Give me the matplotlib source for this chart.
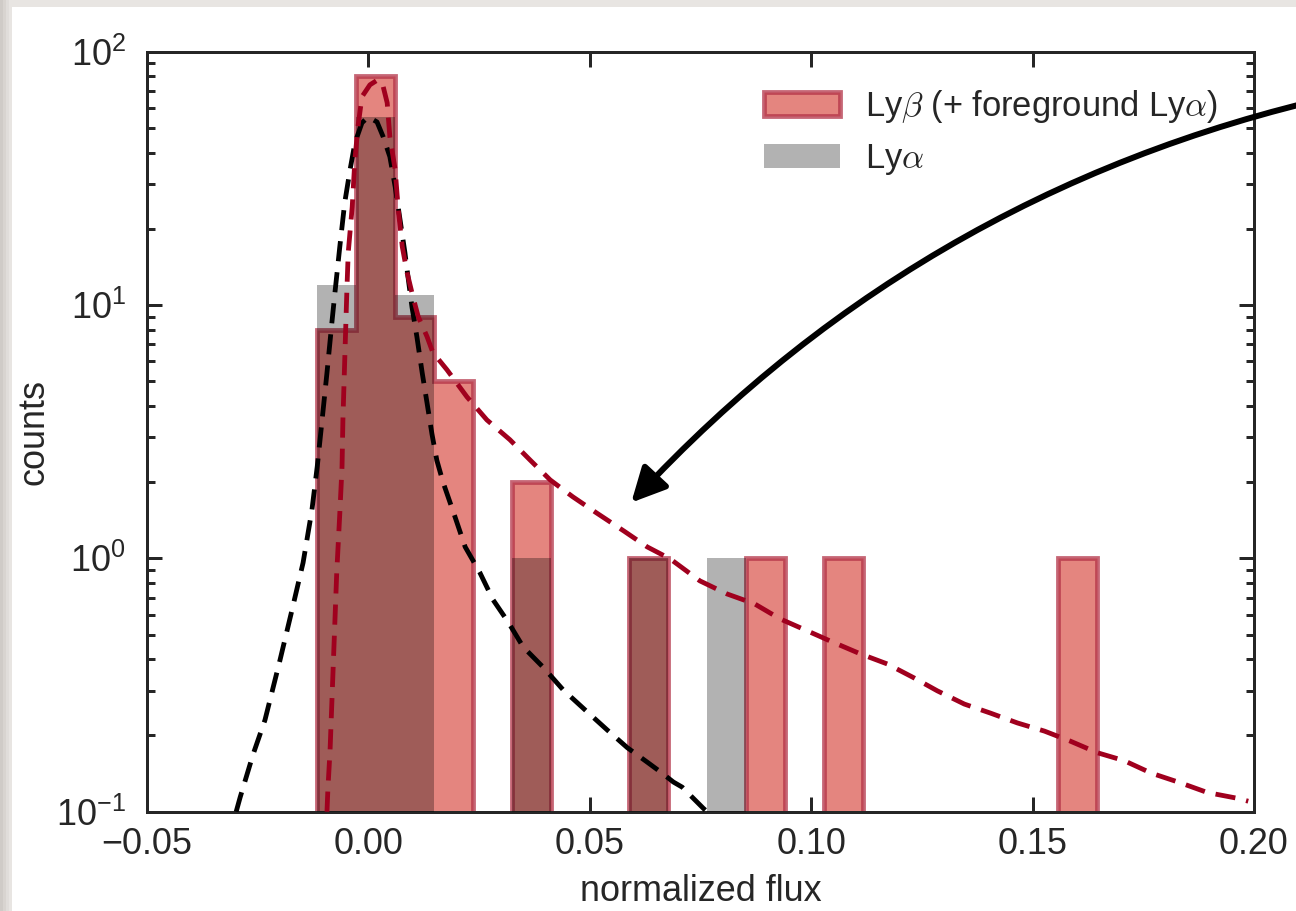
import numpy as np
import matplotlib
matplotlib.use("Agg")
import matplotlib.pyplot as plt
from matplotlib.patches import Rectangle
from matplotlib.ticker import FixedLocator, LogLocator, NullFormatter, FixedFormatter

# histogram bins in normalized flux
flux_lo = -0.01165
flux_hi = 0.16449
nbins = 20

# counts per bin
counts_lyb = [8, 80, 9, 5, 0, 2, 0, 0, 1, 0, 0, 1, 0, 1, 0, 0, 0, 0, 0, 1]
counts_lya = [12, 55, 11, 0, 0, 1, 0, 0, 1, 0, 1, 0, 0, 0, 0, 0, 0, 0, 0, 0]

# model curve for Ly-alpha (black dashed)
model_lya_x = [-0.0298, -0.0289, -0.0260, -0.0233, -0.0199, -0.0172, -0.0147, -0.0127,
               -0.0115, -0.0104, -0.0093, -0.0082, -0.0075, -0.0064, -0.0053, -0.0041,
               -0.0030, -0.0014, 0.0000, 0.0020, 0.0034, 0.0049, 0.0061, 0.0072,
               0.0083, 0.0091, 0.0099, 0.0110, 0.0122, 0.0133, 0.0144, 0.0155,
               0.0169, 0.0196, 0.0219, 0.0252, 0.0282, 0.0316, 0.0350, 0.0395,
               0.0440, 0.0490, 0.0540, 0.0585, 0.0632, 0.0659, 0.0689, 0.0709,
               0.0734, 0.0757, 0.0768]
model_lya_y = [0.100, 0.114, 0.168, 0.230, 0.397, 0.625, 0.96, 1.55,
               2.30, 3.52, 5.40, 8.5, 11.2, 17.0, 25.3, 34.1,
               43.6, 52.4, 55.3, 52.8, 46.1, 38.5, 29.3, 21.7,
               16.1, 12.5, 9.8, 7.5, 5.4, 4.1, 3.1, 2.44,
               2.0, 1.46, 1.11, 0.88, 0.686, 0.561, 0.447, 0.372,
               0.303, 0.252, 0.210, 0.179, 0.156, 0.144, 0.131, 0.125,
               0.113, 0.103, 0.099]

# model curve for Ly-beta + foreground Ly-alpha (red dashed)
model_lyb_x = [-0.0093, -0.0091, -0.0086, -0.0071, -0.0064, -0.0059, -0.0057, -0.0052,
               -0.0048, -0.0045, -0.0036, -0.0030, -0.0023, -0.0014, 0.0004, 0.0022,
               0.0034, 0.0043, 0.0049, 0.0061, 0.0068, 0.0077, 0.0088, 0.0101,
               0.0113, 0.0133, 0.0146, 0.0178, 0.0223, 0.0268, 0.0320, 0.0365,
               0.0411, 0.0462, 0.0516, 0.0578, 0.0630, 0.0682, 0.0749, 0.0810,
               0.0872, 0.0930, 0.0992, 0.1043, 0.1111, 0.1172, 0.1233, 0.1285,
               0.1346, 0.1405, 0.1466, 0.1527, 0.1585, 0.1646, 0.1707, 0.1768,
               0.1834, 0.1895, 0.1962, 0.1987]
model_lyb_y = [0.100, 0.122, 0.175, 0.875, 1.51, 2.30, 3.52, 6.83,
               11.5, 16.1, 24.4, 37.4, 50.6, 66.4, 74.0, 77.5,
               72.7, 62.8, 46.1, 34.2, 23.8, 17.0, 13.4, 10.8,
               9.0, 7.5, 6.5, 5.55, 4.34, 3.52, 2.94, 2.45,
               2.04, 1.75, 1.51, 1.28, 1.11, 0.995, 0.815, 0.724,
               0.662, 0.577, 0.517, 0.472, 0.420, 0.383, 0.337, 0.300,
               0.266, 0.245, 0.224, 0.208, 0.190, 0.171, 0.159, 0.142,
               0.130, 0.119, 0.113, 0.110]

xticks = [-0.05, 0.00, 0.05, 0.10, 0.15, 0.20]
yticks = [0.1, 1, 10, 100]
ytick_labels = [r'$\mathregular{10^{-1}}$', r'$\mathregular{10^{0}}$',
                r'$\mathregular{10^{1}}$', r'$\mathregular{10^{2}}$']

plt.rcParams['font.family'] = ['Liberation Sans', 'DejaVu Sans']
plt.rcParams['mathtext.fontset'] = 'cm'
plt.rcParams['font.size'] = 12
plt.rcParams['text.color'] = '#262626'
plt.rcParams['axes.labelcolor'] = '#262626'
plt.rcParams['xtick.color'] = '#262626'
plt.rcParams['ytick.color'] = '#262626'

fig = plt.figure(figsize=(6.0, 911 / 216), dpi=216)
fig.patch.set_facecolor('white')

# screenshot shadow along top and left
fig.add_artist(Rectangle((0, 1 - 7 / 911), 1, 7 / 911, transform=fig.transFigure,
                         facecolor='#e8e5e2', edgecolor='none', zorder=0))
for i, c in enumerate(['#cfcbc7', '#d8d4d0', '#e0ddda', '#e8e5e2']):
    fig.add_artist(Rectangle((i * 3 / 1296, 0), 3 / 1296, 1, transform=fig.transFigure,
                             facecolor=c, edgecolor='none', zorder=0))

ax = fig.add_axes([146.7 / 1296, 99.3 / 911, 1107.3 / 1296, 760 / 911])

edges = np.linspace(flux_lo, flux_hi, nbins + 1)
centers = 0.5 * (edges[1:] + edges[:-1])

ax.hist(centers, bins=edges, weights=counts_lyb, histtype='stepfilled', log=True,
        facecolor='#e4857f', edgecolor=(0.70, 0.20, 0.28, 0.75), linewidth=1.6,
        label=r'Ly$\beta$ (+ foreground Ly$\alpha$)', zorder=2)
ax.hist(centers, bins=edges, weights=counts_lya, histtype='stepfilled', log=True,
        facecolor=(0, 0, 0, 0.3), edgecolor='none', linewidth=0,
        label=r'Ly$\alpha$', zorder=3)

ax.plot(model_lya_x, model_lya_y, color='k', lw=1.6, ls=(0, (4.2, 2.3)), zorder=4)
ax.plot(model_lyb_x, model_lyb_y, color='#a0001e', lw=1.6, ls=(0, (4.2, 2.3)), zorder=4)

ax.annotate('', xy=(0.0594, 1.66), xycoords='data',
            xytext=(1.10, 0.95), textcoords='axes fraction',
            arrowprops=dict(arrowstyle='-|>', color='k', lw=2.0, mutation_scale=24,
                            shrinkA=0, shrinkB=0, connectionstyle='arc3,rad=0.16'),
            annotation_clip=False, zorder=6)

ax.set_xlim(-0.05, 0.20)
ax.set_ylim(0.1, 100)
ax.set_yscale('log')
ax.xaxis.set_major_locator(FixedLocator(xticks))
ax.set_xticklabels([f'{t:.2f}'.replace('-', '\u2212') for t in xticks])
ax.yaxis.set_major_locator(FixedLocator(yticks))
ax.yaxis.set_major_formatter(FixedFormatter(ytick_labels))
ax.yaxis.set_minor_locator(LogLocator(base=10, subs=np.arange(2, 10)))
ax.yaxis.set_minor_formatter(NullFormatter())

ax.tick_params(which='both', direction='in', top=True, right=True, width=1.0)
ax.tick_params(which='major', length=5)
ax.tick_params(which='minor', length=2.7)
ax.tick_params(axis='x', pad=5)
ax.tick_params(axis='y', pad=7)
for s in ax.spines.values():
    s.set_linewidth(1.0)
    s.set_color('#262626')

ax.set_xlabel('normalized flux')
ax.set_ylabel('counts', labelpad=1.5)

ax.legend(loc='upper right', frameon=False, fontsize=11.5, handlelength=2.2,
          handletextpad=0.72, borderaxespad=0.65)

fig.savefig('out.png', dpi=216)
